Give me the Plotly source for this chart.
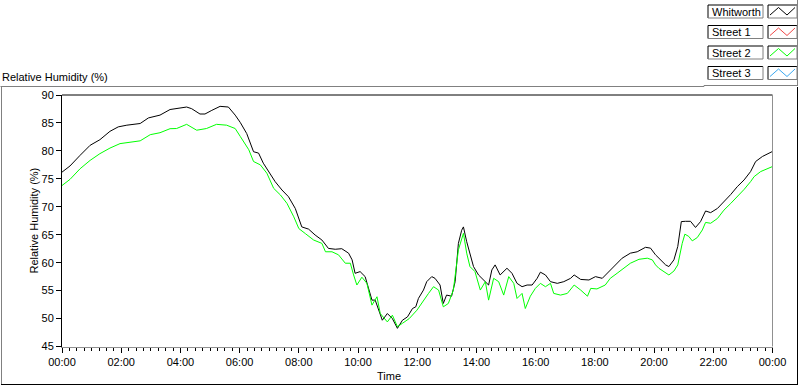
import plotly.graph_objects as go

# ---- data (hours since midnight, relative humidity %) ----
whitworth_hours = [0.00, 0.27, 0.61, 0.95, 1.28, 1.62, 1.90, 2.19, 2.64, 2.92, 3.31, 3.65, 4.21, 4.38,
                   4.66, 4.83, 5.06, 5.34, 5.62, 5.85, 6.02, 6.24, 6.47, 6.64, 6.80, 6.97, 7.20, 7.43,
                   7.65, 7.88, 8.10, 8.33, 8.55, 8.78, 9.00, 9.23, 9.45, 9.68, 9.80, 9.90, 10.07, 10.24,
                   10.35, 10.47, 10.58, 10.70, 10.82, 10.99, 11.16, 11.33, 11.50, 11.67, 11.84, 11.95,
                   12.04, 12.21, 12.32, 12.49, 12.60, 12.77, 12.88, 12.99, 13.16, 13.28, 13.39, 13.50,
                   13.56, 13.67, 13.78, 13.90, 14.07, 14.24, 14.41, 14.52, 14.63, 14.80, 15.03, 15.20,
                   15.37, 15.54, 15.71, 15.88, 16.05, 16.16, 16.33, 16.50, 16.73, 16.95, 17.18, 17.30,
                   17.52, 17.80, 18.02, 18.25, 18.41, 18.64, 18.92, 19.20, 19.43, 19.71, 19.88, 20.05,
                   20.22, 20.39, 20.50, 20.67, 20.80, 20.92, 21.06, 21.23, 21.40, 21.57, 21.74, 21.91,
                   22.14, 22.36, 22.59, 22.81, 23.04, 23.26, 23.43, 23.66, 24.00]
whitworth_rh = [76.2, 77.3, 79.2, 81.0, 82.0, 83.5, 84.3, 84.6, 84.9, 85.9, 86.4, 87.4, 87.85, 87.55,
                86.6, 86.6, 87.25, 87.97, 87.85, 86.4, 85.1, 83.1, 79.85, 79.6, 77.8, 76.3, 74.5, 73.0,
                71.8, 69.7, 66.4, 66.0, 64.95, 64.05, 62.55, 62.4, 62.5, 61.7, 60.5, 58.1, 58.4, 57.5,
                55.7, 53.3, 53.3, 51.5, 49.7, 50.9, 50.0, 48.25, 49.7, 50.3, 51.8, 52.1,
                53.6, 55.1, 56.6, 57.5, 57.2, 56.0, 52.7, 54.2, 54.0, 56.6, 63.45, 65.8,
                66.4, 63.75, 61.7, 59.3, 57.8, 56.9, 56.0, 58.7, 59.6, 57.8, 59.0, 58.1,
                56.3, 55.7, 56.0, 56.0, 57.2, 58.3, 57.8, 56.6, 56.3, 56.6, 57.2, 57.8,
                57.0, 56.9, 57.5, 57.2, 58.1, 59.3, 60.8, 61.7, 61.95, 62.75, 62.6, 61.4,
                60.5, 59.6, 59.3, 60.5, 62.9, 67.35, 67.4, 67.4, 66.3, 67.35, 69.25, 68.95,
                69.7, 70.9, 72.2, 73.6, 74.8, 76.3, 78.1, 79.0, 79.9]

street2_hours = [0.00, 0.27, 0.61, 0.95, 1.28, 1.62, 1.96, 2.30, 2.64, 2.98, 3.31, 3.65, 3.87, 4.21,
                 4.55, 4.88, 5.22, 5.56, 5.85, 6.02, 6.31, 6.47, 6.70, 6.92, 7.15, 7.38, 7.60, 7.83,
                 8.00, 8.22, 8.50, 8.78, 8.90, 9.12, 9.34, 9.57, 9.74, 9.85, 9.96, 10.13, 10.30, 10.47,
                 10.64, 10.75, 10.99, 11.16, 11.33, 11.50, 11.73, 11.99, 12.21, 12.38, 12.55, 12.72,
                 12.88, 13.05, 13.22, 13.39, 13.56, 13.67, 13.78, 13.95, 14.13, 14.30, 14.41, 14.58,
                 14.75, 14.92, 15.09, 15.26, 15.37, 15.54, 15.65, 15.82, 15.99, 16.16, 16.33, 16.50,
                 16.61, 16.84, 17.07, 17.30, 17.52, 17.75, 17.86, 18.07, 18.35, 18.52, 18.75, 18.98,
                 19.20, 19.49, 19.77, 19.94, 20.05, 20.16, 20.33, 20.50, 20.67, 20.80, 20.95, 21.04,
                 21.17, 21.29, 21.46, 21.63, 21.74, 21.91, 22.14, 22.36, 22.59, 22.81, 23.04, 23.26,
                 23.38, 23.60, 24.00]
street2_rh = [73.8, 74.9, 76.8, 78.3, 79.5, 80.5, 81.3, 81.5, 81.8, 82.9, 83.25, 83.97, 84.0, 84.75,
              83.7, 84.0, 84.75, 84.6, 84.0, 82.6, 80.2, 78.1, 77.5, 76.0, 73.3, 72.1, 70.6, 68.2,
              66.1, 65.2, 64.05, 63.45, 61.95, 61.95, 61.4, 59.9, 59.9, 57.8, 56.0, 57.4, 56.3, 52.4,
              53.9, 50.9, 49.4, 50.6, 48.55, 49.15, 50.0, 51.5, 53.3, 54.5, 55.7, 55.1,
              52.1, 52.7, 55.1, 62.3, 65.25, 61.7, 59.3, 58.4, 55.1, 56.6, 53.3, 57.2,
              56.6, 54.2, 57.5, 56.3, 53.6, 54.5, 51.8, 54.0, 55.4, 56.3, 55.7, 56.3,
              54.5, 54.2, 54.5, 56.0, 55.1, 54.0, 55.4, 55.3, 56.0, 57.2, 58.1, 59.0,
              59.9, 60.6, 60.8, 60.5, 59.6, 59.0, 58.4, 57.8, 58.5, 59.6, 63.45, 65.1,
              64.7, 63.9, 64.5, 65.85, 67.2, 67.05, 67.9, 69.4, 70.6, 71.8, 73.1, 74.5,
              75.4, 76.3, 77.2]

tick_hours = [0, 2, 4, 6, 8, 10, 12, 14, 16, 18, 20, 22, 24]
tick_labels = ["00:00", "02:00", "04:00", "06:00", "08:00", "10:00", "12:00",
               "14:00", "16:00", "18:00", "20:00", "22:00", "00:00"]
legend_names = ["Whitworth", "Street 1", "Street 2", "Street 3"]
legend_colors = ["#000000", "#f04848", "#00ff00", "#3aa8f0"]

W, H = 800, 386
FONT = "Arial, Liberation Sans, sans-serif"


def px(x):
    return x / W


def py(y):
    return 1 - y / H


fig = go.Figure()
fig.add_trace(go.Scatter(x=whitworth_hours, y=whitworth_rh, mode="lines",
                         line=dict(color="#000000", width=1), name="Whitworth", showlegend=False))
fig.add_trace(go.Scatter(x=street2_hours, y=street2_rh, mode="lines",
                         line=dict(color="#00ff00", width=1), name="Street 2", showlegend=False))

shapes = []


def line(x0, y0, x1, y1, color, w=1):
    shapes.append(dict(type="line", xref="paper", yref="paper",
                       x0=px(x0), y0=py(y0), x1=px(x1), y1=py(y1),
                       line=dict(color=color, width=w)))


# outer frame
line(0.5, 86.5, 704, 86.5, "#808080")
line(704, 86.5, 704, 85.5, "#808080")
line(704, 85.5, 798, 85.5, "#808080")
line(797.5, 0, 797.5, 85.5, "#808080")
line(1.5, 86.5, 1.5, 385, "#808080")
line(1, 384.5, 798, 384.5, "#000000")
line(797.5, 87, 797.5, 385, "#000000")

# plot frame: top black, right gray
line(62, 95, 772.5, 95, "#000000")
line(772.5, 95, 772.5, 346.5, "#909090")

annotations = []
# legend boxes
row_tops = [5, 25.5, 46, 66.5]
for name, col, top in zip(legend_names, legend_colors, row_tops):
    bot = top + 13
    for (a, b) in [(708, 763), (768, 797)]:
        line(a, top, b, top, "#000000")
        line(a, top, a, bot, "#000000")
        line(a, bot, b, bot, "#808080")
        line(b, top, b, bot, "#808080")
    pts = [(770, top + 10), (778.5, top + 2.5), (787, top + 10), (795, top + 2.5)]
    path = "M " + " L ".join(f"{px(x)},{py(y)}" for x, y in pts)
    shapes.append(dict(type="path", xref="paper", yref="paper", path=path,
                       line=dict(color=col, width=1)))
    annotations.append(dict(text=name, x=px(710), y=py(top + 6.8), xref="paper", yref="paper",
                            xanchor="left", yanchor="middle", showarrow=False,
                            font=dict(family=FONT, size=11, color="#000000")))

annotations.append(dict(text="Relative Humidity (%)", x=px(0), y=py(77), xref="paper", yref="paper",
                        xanchor="left", yanchor="middle", showarrow=False,
                        font=dict(family=FONT, size=11, color="#000000")))
annotations.append(dict(text="Relative Humidity (%)", x=px(33), y=py(220.5), xref="paper", yref="paper",
                        xanchor="center", yanchor="middle", showarrow=False, textangle=-90,
                        font=dict(family=FONT, size=11, color="#000000")))
annotations.append(dict(text="Time", x=px(389), y=py(376), xref="paper", yref="paper",
                        xanchor="center", yanchor="middle", showarrow=False,
                        font=dict(family=FONT, size=11, color="#000000")))

fig.update_layout(
    width=W, height=H,
    margin=dict(l=0, r=0, t=0, b=0, pad=0, autoexpand=False),
    paper_bgcolor="white", plot_bgcolor="white",
    showlegend=False,
    font=dict(family=FONT, size=11, color="#000000"),
    shapes=shapes, annotations=annotations,
    xaxis=dict(domain=[px(62), px(772.5)], range=[0, 24], automargin=False,
               tickmode="array", tickvals=tick_hours, ticktext=tick_labels,
               ticks="outside", ticklen=5, tickcolor="#000000", tickwidth=1,
               showline=True, linecolor="#909090", linewidth=1,
               showgrid=False, zeroline=False,
               minor=dict(tick0=0, dtick=0.25, ticks="outside", ticklen=3,
                          tickcolor="#000000", tickwidth=1, showgrid=False),
               tickfont=dict(family=FONT, size=11, color="#000000")),
    yaxis=dict(domain=[py(346.5), py(95)], range=[45, 90], dtick=5, tick0=45, automargin=False,
               ticks="outside", ticklen=5, tickcolor="#000000", tickwidth=1,
               showline=True, linecolor="#000000", linewidth=1,
               showgrid=False, zeroline=False,
               tickfont=dict(family=FONT, size=11, color="#000000")),
)

fig.write_html("out.html",
               config={"displayModeBar": False},
               post_script="document.body.style.margin='0';document.body.style.padding='0';"
                           "document.documentElement.style.overflow='hidden';")
